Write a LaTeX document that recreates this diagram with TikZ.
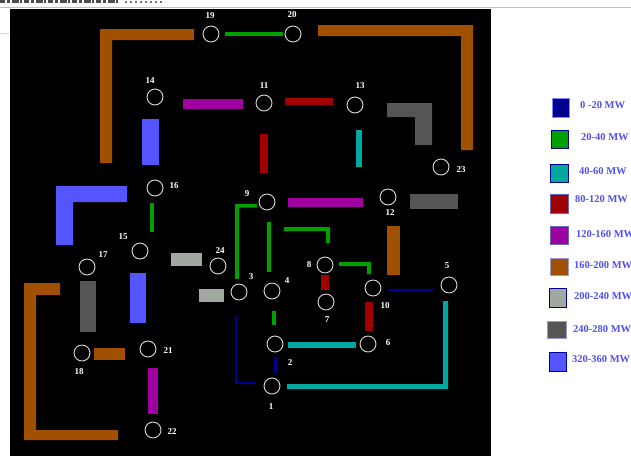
\documentclass[tikz,border=0pt]{standalone}
\usepackage{fontspec}
\setmainfont{Liberation Serif}
\definecolor{cbrown}{HTML}{A05000}
\definecolor{cgreen}{HTML}{00A000}
\definecolor{cteal}{HTML}{00A8A0}
\definecolor{cred}{HTML}{A00000}
\definecolor{cpurple}{HTML}{A000A0}
\definecolor{cblue}{HTML}{5555FF}
\definecolor{cgrey}{HTML}{555555}
\definecolor{clight}{HTML}{A0A8A0}
\definecolor{cnavy}{HTML}{000090}
\definecolor{ctext}{HTML}{5050F0}
\tikzset{
  bus/.style={circle,draw=white!85!black,line width=0.9pt,fill=black,minimum size=16pt,inner sep=0pt},
  lab/.style={text=white,font=\fontsize{9}{9}\selectfont\bfseries,inner sep=0pt},
  swatch/.style={draw=#1,line width=1pt},
  legtext/.style={text=ctext,font=\fontsize{10.5}{11}\selectfont\bfseries,inner sep=0pt,anchor=west}
}
\begin{document}
\begin{tikzpicture}[x=1pt,y=-1pt]
\useasboundingbox (0,0) rectangle (631,456);
\fill[white] (0,0) rectangle (631,456);
% page edge above the panel
\draw[black!70,line width=2.5pt,dash pattern=on 5pt off 1.5pt on 3pt off 2pt on 7pt off 1.5pt on 2pt off 2pt] (0,1.5) -- (118,1.5);
\draw[black!55,line width=2pt,dash pattern=on 2pt off 3pt] (125,2) -- (165,2);
\fill[black!25] (0,6.5) rectangle (631,8);
\fill[black!15] (0,33) rectangle (10,34);
\fill[black] (10,8.5) rectangle (491,456);
% brown
\fill[cbrown] (100,163) -- (100,29) -- (194,29) -- (194,40) -- (112,40) -- (112,163) -- cycle;
\fill[cbrown] (318,25) -- (473,25) -- (473,150) -- (461,150) -- (461,36) -- (318,36) -- cycle;
\fill[cbrown] (387,226) rectangle (400,275);
\fill[cbrown] (94,348) rectangle (125,360);
\fill[cbrown] (60,283) -- (24,283) -- (24,440) -- (118,440) -- (118,430) -- (36,430) -- (36,295) -- (60,295) -- cycle;
% green
\fill[cgreen] (225,32) rectangle (283,36);
\fill[cgreen] (150,203) rectangle (154,232);
\fill[cgreen] (257,204) -- (235,204) -- (235,279) -- (239,279) -- (239,207.5) -- (257,207.5) -- cycle;
\fill[cgreen] (267,222) rectangle (271,272);
\fill[cgreen] (284,227) -- (330,227) -- (330,243) -- (326,243) -- (326,231) -- (284,231) -- cycle;
\fill[cgreen] (339,262) -- (371,262) -- (371,274) -- (367,274) -- (367,266) -- (339,266) -- cycle;
\fill[cgreen] (272,311) rectangle (276,325);
% purple
\fill[cpurple] (183,99) rectangle (243,109);
\fill[cpurple] (288,198) rectangle (363,207);
\fill[cpurple] (148,368) rectangle (158,414);
% blue
\fill[cblue] (142,119) rectangle (159,165);
\fill[cblue] (56,186) -- (127,186) -- (127,202) -- (73,202) -- (73,245) -- (56,245) -- cycle;
\fill[cblue] (130,273) rectangle (146,323);
% red
\fill[cred] (285,98) rectangle (333,105);
\fill[cred] (260,134) rectangle (268,173);
\fill[cred] (321,275) rectangle (329,290);
\fill[cred] (365,302) rectangle (373,331);
% teal
\fill[cteal] (356,130) rectangle (362,167);
\fill[cteal] (288,342) rectangle (356,348);
\fill[cteal] (287,384) -- (443,384) -- (443,301) -- (448,301) -- (448,389) -- (287,389) -- cycle;
% grey
\fill[cgrey] (387,103) -- (432,103) -- (432,145) -- (415,145) -- (415,117) -- (387,117) -- cycle;
\fill[cgrey] (410,194) rectangle (458,209);
\fill[cgrey] (80,281) rectangle (96,332);
% light grey
\fill[clight] (171,253) rectangle (202,266);
\fill[clight] (199,289) rectangle (224,302);
% navy
\fill[cnavy] (388,289) rectangle (434,291);
\fill[cnavy] (274,357) rectangle (277,374);
\fill[cnavy] (235,316) -- (237,316) -- (237,382) -- (256,382) -- (256,384) -- (235,384) -- cycle;
% buses
\node[bus] (n1) at (272,386) {};
\node[bus] (n2) at (275,344) {};
\node[bus] (n3) at (239,292) {};
\node[bus] (n4) at (272,291) {};
\node[bus] (n5) at (449,285) {};
\node[bus] (n6) at (368,344) {};
\node[bus] (n7) at (326,302) {};
\node[bus] (n8) at (325,265) {};
\node[bus] (n9) at (267,202) {};
\node[bus] (n10) at (373,288) {};
\node[bus] (n11) at (264,103) {};
\node[bus] (n12) at (388,197) {};
\node[bus] (n13) at (355,105) {};
\node[bus] (n14) at (155,97) {};
\node[bus] (n15) at (140,251) {};
\node[bus] (n16) at (155,188) {};
\node[bus] (n17) at (87,267) {};
\node[bus] (n18) at (82,353) {};
\node[bus] (n19) at (211,34) {};
\node[bus] (n20) at (293,34) {};
\node[bus] (n21) at (148,349) {};
\node[bus] (n22) at (153,430) {};
\node[bus] (n23) at (441,167) {};
\node[bus] (n24) at (218,266) {};
% labels
\node[lab] (l1) at (271,407) {1};
\node[lab] (l2) at (290,363) {2};
\node[lab] (l3) at (251,277) {3};
\node[lab] (l4) at (287,281) {4};
\node[lab] (l5) at (447,266) {5};
\node[lab] (l6) at (388,343) {6};
\node[lab] (l7) at (327,320) {7};
\node[lab] (l8) at (309,265) {8};
\node[lab] (l9) at (247,194) {9};
\node[lab] (l10) at (385,306) {10};
\node[lab] (l11) at (264,86) {11};
\node[lab] (l12) at (390,213) {12};
\node[lab] (l13) at (360,86) {13};
\node[lab] (l14) at (150,81) {14};
\node[lab] (l15) at (123,237) {15};
\node[lab] (l16) at (174,186) {16};
\node[lab] (l17) at (103,255) {17};
\node[lab] (l18) at (79,372) {18};
\node[lab] (l19) at (210,16) {19};
\node[lab] (l20) at (292,15) {20};
\node[lab] (l21) at (168,351) {21};
\node[lab] (l22) at (172,432) {22};
\node[lab] (l23) at (461,170) {23};
\node[lab] (l24) at (220,251) {24};
% legend
\filldraw[swatch=cblue!70!white,fill=cnavy] (552,98) rectangle (569,117);
\filldraw[swatch=cnavy,fill=cgreen] (551,130) rectangle (568,148);
\filldraw[swatch=cnavy,fill=cteal] (550,164) rectangle (568,182);
\filldraw[swatch=cnavy!60!white,fill=cred] (550,194) rectangle (568,213);
\filldraw[swatch=cnavy!60!white,fill=cpurple] (550,226) rectangle (568,244);
\filldraw[swatch=cnavy!40!white,fill=cbrown] (550,258) rectangle (568,275);
\filldraw[swatch=cnavy,fill=clight] (549,288) rectangle (566,307);
\filldraw[swatch=cnavy!40!white,fill=cgrey] (547,321) rectangle (566,338);
\filldraw[swatch=cnavy,fill=cblue] (549,352) rectangle (566,371);
\node[legtext] (t1) at (580,105) {0 -20 MW};
\node[legtext] (t2) at (581,137) {20-40 MW};
\node[legtext] (t3) at (579,171) {40-60 MW};
\node[legtext] (t4) at (575,199) {80-120 MW};
\node[legtext] (t5) at (576,234) {120-160 MW};
\node[legtext] (t6) at (574,265) {160-200 MW};
\node[legtext] (t7) at (574,296) {200-240 MW};
\node[legtext] (t8) at (573,329) {240-280 MW};
\node[legtext] (t9) at (572,359) {320-360 MW};
\end{tikzpicture}
\end{document}
